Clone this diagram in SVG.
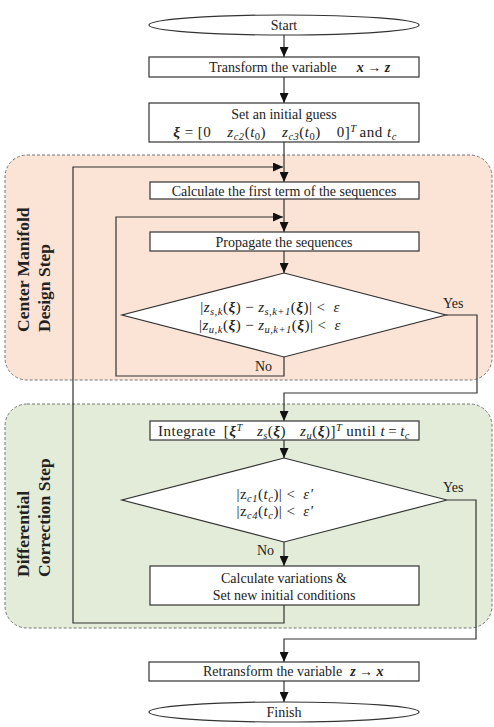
<svg xmlns="http://www.w3.org/2000/svg" width="494" height="727" viewBox="0 0 494 727">
<style>
.t{font-family:"Liberation Serif","Times New Roman",serif;font-size:14px;fill:#222}
.m{font-family:"Liberation Serif","Times New Roman",serif;font-size:15px;fill:#222;letter-spacing:0.5px}
.c{text-anchor:middle}
.i{font-style:italic}
.b{font-weight:bold}
.s{font-size:10.5px}
.lab{font-family:"Liberation Serif","Times New Roman",serif;font-size:17.5px;font-weight:bold;fill:#222}
.box{fill:#fff;stroke:#333;stroke-width:1.2}
.ln{fill:none;stroke:#333;stroke-width:1.2}
.reg{stroke:#777;stroke-width:1;stroke-dasharray:3 2}
</style>
<defs>
<marker id="ah" markerUnits="userSpaceOnUse" markerWidth="10" markerHeight="9" refX="10" refY="4.5" orient="auto">
<path d="M0,0 L10,4.5 L0,9 z" fill="#111"/>
</marker>
</defs>
<g id="regions">
<rect id="cm-region" class="reg" x="5" y="155" width="487" height="225" rx="22" fill="#fbe3d6"/>
<rect id="dc-region" class="reg" x="5" y="404" width="487" height="224" rx="22" fill="#e3ecd9"/>
<text class="lab" transform="translate(29,332) rotate(-90)">Center Manifold</text>
<text class="lab" transform="translate(50,332) rotate(-90)">Design Step</text>
<text class="lab" transform="translate(29,577) rotate(-90)">Differential</text>
<text class="lab" transform="translate(50,577) rotate(-90)">Correction Step</text>
</g>
<g id="connectors">
<line class="ln" x1="284" y1="35" x2="284" y2="57" marker-end="url(#ah)"/>
<line class="ln" x1="284" y1="77" x2="284" y2="103" marker-end="url(#ah)"/>
<line class="ln" x1="284" y1="142" x2="284" y2="182" marker-end="url(#ah)"/>
<polyline class="ln" points="284,605 284,623 73,623 73,167 283,167" marker-end="url(#ah)"/>
<line class="ln" x1="284" y1="199" x2="284" y2="232" marker-end="url(#ah)"/>
<line class="ln" x1="284" y1="251" x2="284" y2="273" marker-end="url(#ah)"/>
<polyline class="ln" points="284,357 284,376 116,376 116,217 283,217" marker-end="url(#ah)"/>
<polyline class="ln" points="446,315 477,315 477,393 284,393 284,421" marker-end="url(#ah)"/>
<line class="ln" x1="284" y1="440" x2="284" y2="458" marker-end="url(#ah)"/>
<line class="ln" x1="284" y1="542" x2="284" y2="566" marker-end="url(#ah)"/>
<polyline class="ln" points="447,500 476,500 476,639 284,639 284,662" marker-end="url(#ah)"/>
<line class="ln" x1="284" y1="681" x2="284" y2="702" marker-end="url(#ah)"/>
<text class="t" x="443" y="308">Yes</text>
<text class="t" x="255" y="371">No</text>
<text class="t" x="443" y="492">Yes</text>
<text class="t" x="257" y="555">No</text>
</g>
<g id="start">
<ellipse class="box" cx="284" cy="25" rx="135" ry="10"/>
<text class="t c" x="284" y="30">Start</text>
</g>
<g id="transform">
<rect class="box" x="149" y="57" width="270" height="20"/>
<text class="t" x="209" y="72">Transform the variable<tspan class="b i" dx="20">x → z</tspan></text>
</g>
<g id="initial-guess">
<rect class="box" x="149" y="103" width="270" height="39"/>
<text class="t c" x="284" y="119">Set an initial guess</text>
<text class="m c" x="285" y="137"><tspan class="b i">ξ</tspan> = [0<tspan class="i" dx="16">z</tspan><tspan class="s i" dy="3">c2</tspan><tspan dy="-3">(</tspan><tspan class="i">t</tspan><tspan class="s" dy="3">0</tspan><tspan dy="-3">)</tspan><tspan class="i" dx="16">z</tspan><tspan class="s i" dy="3">c3</tspan><tspan dy="-3">(</tspan><tspan class="i">t</tspan><tspan class="s" dy="3">0</tspan><tspan dy="-3">)</tspan><tspan dx="16">0]</tspan><tspan class="s i" dy="-5">T</tspan><tspan dy="5" dx="3">and </tspan><tspan class="i">t</tspan><tspan class="s i" dy="3">c</tspan></text>
</g>
<g id="first-term">
<rect class="box" x="150" y="182" width="269" height="17"/>
<text class="t c" x="284" y="195.5">Calculate the first term of the sequences</text>
</g>
<g id="propagate">
<rect class="box" x="150" y="232" width="269" height="19"/>
<text class="t c" x="284" y="246.5">Propagate the sequences</text>
</g>
<g id="decision-1">
<polygon class="box" points="284,273 446,315 284,357 122,315"/>
<text class="m c" x="270" y="312">|<tspan class="i">z</tspan><tspan class="s i" dy="3">s,k</tspan><tspan dy="-3">(</tspan><tspan class="b i">ξ</tspan>)<tspan dx="4">−</tspan><tspan class="i" dx="4">z</tspan><tspan class="s i" dy="3">s,k+1</tspan><tspan dy="-3">(</tspan><tspan class="b i">ξ</tspan>)|<tspan dx="4">&lt;</tspan><tspan class="i" dx="8">ε</tspan></text>
<text class="m c" x="270" y="330">|<tspan class="i">z</tspan><tspan class="s i" dy="3">u,k</tspan><tspan dy="-3">(</tspan><tspan class="b i">ξ</tspan>)<tspan dx="4">−</tspan><tspan class="i" dx="4">z</tspan><tspan class="s i" dy="3">u,k+1</tspan><tspan dy="-3">(</tspan><tspan class="b i">ξ</tspan>)|<tspan dx="4">&lt;</tspan><tspan class="i" dx="8">ε</tspan></text>
</g>
<g id="integrate">
<rect class="box" x="150" y="421" width="269" height="19"/>
<text class="m c" x="284" y="436">Integrate<tspan dx="8">[</tspan><tspan class="b i">ξ</tspan><tspan class="s i" dy="-5">T</tspan><tspan class="i" dx="14" dy="5">z</tspan><tspan class="s i" dy="3">s</tspan><tspan dy="-3">(</tspan><tspan class="b i">ξ</tspan>)<tspan class="i" dx="14">z</tspan><tspan class="s i" dy="3">u</tspan><tspan dy="-3">(</tspan><tspan class="b i">ξ</tspan>)]<tspan class="s i" dy="-5">T</tspan><tspan dy="5" dx="4">until </tspan><tspan class="i">t</tspan><tspan dx="3">=</tspan><tspan class="i" dx="3">t</tspan><tspan class="s i" dy="3">c</tspan></text>
</g>
<g id="decision-2">
<polygon class="box" points="284,458 447,500 284,542 122,500"/>
<text class="m c" x="275" y="499">|z<tspan class="s i" dy="3">c1</tspan><tspan dy="-3">(</tspan><tspan class="i">t</tspan><tspan class="s i" dy="3">c</tspan><tspan dy="-3">)|</tspan><tspan dx="4">&lt;</tspan><tspan class="i" dx="8">ε′</tspan></text>
<text class="m c" x="275" y="516">|z<tspan class="s i" dy="3">c4</tspan><tspan dy="-3">(</tspan><tspan class="i">t</tspan><tspan class="s i" dy="3">c</tspan><tspan dy="-3">)|</tspan><tspan dx="4">&lt;</tspan><tspan class="i" dx="8">ε′</tspan></text>
</g>
<g id="variations">
<rect class="box" x="150" y="566" width="269" height="39"/>
<text class="t c" x="284" y="583">Calculate variations &amp;</text>
<text class="t c" x="284" y="600">Set new initial conditions</text>
</g>
<g id="retransform">
<rect class="box" x="149" y="662" width="270" height="19"/>
<text class="t" x="203" y="676">Retransform the variable<tspan class="b i" dx="8">z → x</tspan></text>
</g>
<g id="finish">
<ellipse class="box" cx="284" cy="712" rx="135" ry="10"/>
<text class="t c" x="284" y="717">Finish</text>
</g>
</svg>
